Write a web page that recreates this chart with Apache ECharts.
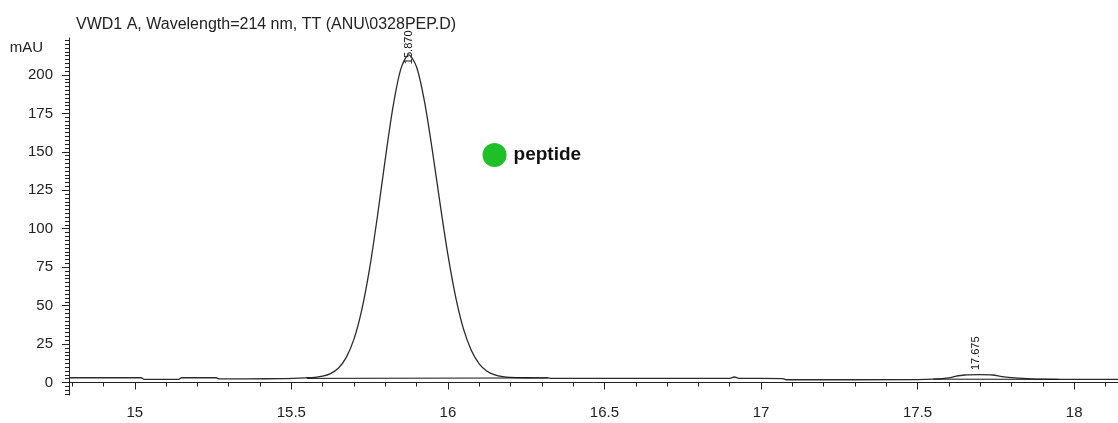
<!DOCTYPE html>
<html><head><meta charset="utf-8">
<script src="https://cdn.jsdelivr.net/npm/echarts@6/dist/echarts.min.js"></script>
<style>html,body{margin:0;padding:0;background:#fff}#c{width:1118px;height:423px}</style>
</head><body><div id="c"></div>
<script>
const chartTitle = 'VWD1 A, Wavelength=214 nm, TT (ANU\\0328PEP.D)';
const yAxisName = 'mAU';

// chromatogram signal (retention time in min, absorbance in mAU)
const signalTime = [14.79, 15.02, 15.03, 15.14, 15.15, 15.26, 15.27, 15.36, 15.48, 15.55,
  15.575, 15.6, 15.625, 15.65, 15.675, 15.7, 15.725, 15.75, 15.775, 15.8, 15.825, 15.85, 15.875,
  15.9, 15.925, 15.95, 15.975, 16.0, 16.025, 16.05, 16.075, 16.1, 16.125, 16.15, 16.175, 16.2, 16.25,
  16.32, 16.33, 16.9, 16.915, 16.93, 17.07, 17.08, 17.5, 17.55, 17.6, 17.62, 17.65, 17.7, 17.74,
  17.77, 17.8, 17.85, 17.9, 17.95, 18.14];
const signalValue = [3.1, 3.1, 2.1, 2.1, 3.1, 3.1, 2.4, 2.4, 2.6, 3.1,
  3.4, 4.1, 5.8, 9.3, 16.2, 28.2, 47.3, 74.2, 108.1, 145.3, 179.6, 204.1, 213,
  205.1, 183, 151.4, 116.3, 83.1, 55.4, 34.7, 20.8, 12.2, 7.4, 5.0, 3.8, 3.3, 3.1,
  3.0, 2.7, 2.7, 3.6, 2.7, 2.6, 1.8, 1.9, 2.2, 3.0, 4.0, 4.9, 5.1, 4.9,
  3.8, 3.2, 2.6, 2.2, 2.1, 2.1];

// integration baselines under the two peaks
const base1Time = [15.55, 16.32];
const base1Value = [2.7, 3.0];
const base2Time = [17.55, 17.95];
const base2Value = [2.2, 2.1];

// peak retention-time annotations
const peakLabels = ['15.870', '17.675'];
const peakLabelTime = [15.877, 17.688];
const peakLabelValue = [207, 8.1];

// legend-like marker
const markerName = 'peptide';
const markerTime = 16.149;
const markerValue = 147.9;

// axes
const xMin = 14.79, xMax = 18.14;
const yMin = -8.1, yMax = 224;
const xTickLabels = [15, 15.5, 16, 16.5, 17, 17.5, 18];
const xMinorTicks = [14.8, 14.9, 15.1, 15.2, 15.3, 15.4, 15.6, 15.7, 15.8, 15.9, 16.1, 16.2, 16.3, 16.4,
  16.6, 16.7, 16.8, 16.9, 17.1, 17.2, 17.3, 17.4, 17.6, 17.7, 17.8, 17.9, 18.1];
const yTickLabels = [0, 25, 50, 75, 100, 125, 150, 175, 200];
const yMinorTicks = [-7.5, -5, -2.5, 2.5, 5, 7.5, 10, 12.5, 15, 17.5, 20, 22.5, 27.5, 30, 32.5, 35, 37.5, 40, 42.5, 45, 47.5,
  52.5, 55, 57.5, 60, 62.5, 65, 67.5, 70, 72.5, 77.5, 80, 82.5, 85, 87.5, 90, 92.5, 95, 97.5,
  102.5, 105, 107.5, 110, 112.5, 115, 117.5, 120, 122.5, 127.5, 130, 132.5, 135, 137.5, 140, 142.5, 145, 147.5,
  152.5, 155, 157.5, 160, 162.5, 165, 167.5, 170, 172.5, 177.5, 180, 182.5, 185, 187.5, 190, 192.5, 195, 197.5,
  202.5, 205, 207.5, 210, 212.5, 215, 217.5, 220, 222.5];

const FONT = 'Liberation Sans, Arial, sans-serif';
const ink = '#222';

const zip = (a, b) => a.map((v, i) => [v, b[i]]);

const chart = echarts.init(document.getElementById('c'), null, {renderer: 'canvas'});
chart.setOption({
  animation: false,
  backgroundColor: '#fff',
  title: {
    text: chartTitle, left: 71, top: 12,
    textStyle: {fontFamily: FONT, fontSize: 16, fontWeight: 'normal', color: ink}
  },
  grid: {left: 69, right: 0, top: 38, bottom: 28, containLabel: false},
  xAxis: [{
    type: 'value', min: xMin, max: xMax, position: 'bottom',
    axisLine: {show: true, lineStyle: {color: ink, width: 1}},
    axisTick: {show: true, length: 7, customValues: xTickLabels, lineStyle: {color: ink}},
    axisLabel: {show: true, customValues: xTickLabels, margin: 10, fontFamily: FONT, fontSize: 15, color: ink},
    splitLine: {show: false}
  }, {
    type: 'value', min: xMin, max: xMax, position: 'bottom',
    axisLine: {show: false},
    axisTick: {show: true, length: 4, customValues: xMinorTicks, lineStyle: {color: ink}},
    axisLabel: {show: false},
    splitLine: {show: false}
  }],
  yAxis: [{
    type: 'value', min: yMin, max: yMax, position: 'left',
    name: yAxisName, nameLocation: 'end', nameGap: -10,
    nameTextStyle: {fontFamily: FONT, fontSize: 15, color: ink, align: 'right', verticalAlign: 'middle', padding: [0, 26, 0, 0]},
    axisLine: {show: true, lineStyle: {color: ink, width: 1}},
    axisTick: {show: true, length: 7, customValues: yTickLabels, lineStyle: {color: ink}},
    axisLabel: {show: true, customValues: yTickLabels, margin: 16, fontFamily: FONT, fontSize: 15, color: ink},
    splitLine: {show: false}
  }, {
    type: 'value', min: yMin, max: yMax, position: 'left',
    axisLine: {show: false},
    axisTick: {show: true, length: 4, customValues: yMinorTicks, lineStyle: {color: ink}},
    axisLabel: {show: false},
    splitLine: {show: false}
  }],
  series: [{
    type: 'line', name: 'signal', xAxisIndex: 0, yAxisIndex: 0,
    data: zip(signalTime, signalValue), symbol: 'none', smooth: 0.3,
    lineStyle: {color: '#2b2b2b', width: 1.3}
  }, {
    type: 'line', name: 'base1', data: zip(base1Time, base1Value), symbol: 'none',
    lineStyle: {color: '#111', width: 1}
  }, {
    type: 'line', name: 'base2', data: zip(base2Time, base2Value), symbol: 'none',
    lineStyle: {color: '#111', width: 1}
  }, {
    type: 'scatter', name: 'peaks',
    data: peakLabels.map((n, i) => ({name: n, value: [peakLabelTime[i], peakLabelValue[i]]})),
    symbolSize: 1, itemStyle: {color: 'rgba(0,0,0,0)', opacity: 1},
    label: {show: true, formatter: '{b}', position: 'inside', rotate: 90, align: 'left', verticalAlign: 'middle',
      fontFamily: FONT, fontSize: 11, color: '#111', opacity: 1}
  }, {
    type: 'scatter', name: 'marker',
    data: [{name: markerName, value: [markerTime, markerValue]}],
    symbol: 'circle', symbolSize: 24, itemStyle: {color: '#1ebf28', opacity: 1},
    label: {show: true, formatter: '{b}', position: 'right', distance: 7,
      fontFamily: FONT, fontSize: 19, fontWeight: 'bold', color: '#111', opacity: 1}
  }]
});
</script>
</body></html>
